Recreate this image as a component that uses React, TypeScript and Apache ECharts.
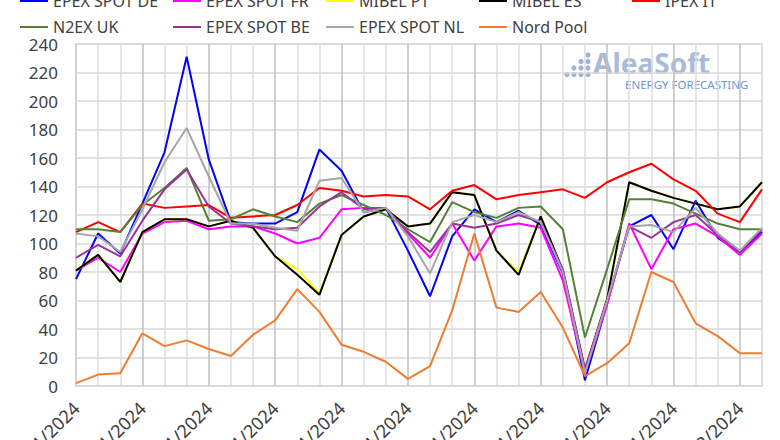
import React, { useEffect, useRef } from "react";
import * as echarts from "echarts";

const categories = [
  "01/11/2024", "02/11/2024", "03/11/2024", "04/11/2024", "05/11/2024", "06/11/2024", "07/11/2024", "08/11/2024",
  "09/11/2024", "10/11/2024", "11/11/2024", "12/11/2024", "13/11/2024", "14/11/2024", "15/11/2024", "16/11/2024",
  "17/11/2024", "18/11/2024", "19/11/2024", "20/11/2024", "21/11/2024", "22/11/2024", "23/11/2024", "24/11/2024",
  "25/11/2024", "26/11/2024", "27/11/2024", "28/11/2024", "29/11/2024", "30/11/2024", "01/12/2024", "02/12/2024",
];

const seriesNames = ["EPEX SPOT DE", "EPEX SPOT FR", "MIBEL PT", "MIBEL ES", "IPEX IT", "N2EX UK", "EPEX SPOT BE", "EPEX SPOT NL", "Nord Pool"];

const epexDE = [75, 107, 93, 128, 164, 231, 159, 115, 114, 114, 122, 166, 151, 122, 125, 95, 63, 105, 124, 115, 123, 113, 79, 4, 58, 112, 120, 96, 130, 104, 94, 108];
const epexFR = [81, 90, 80, 107, 115, 116, 110, 112, 112, 107, 100, 104, 124, 125, 125, 107, 90, 114, 88, 112, 114, 111, 74, 9, 57, 114, 82, 110, 114, 105, 92, 107];
const mibelPT = [81, 92, 73, 108, 117, 117, 112, 116, 111, 91, 82, 65, 106, 119, 124, 112, 114, 136, 134, 95, 80, 119, 81, 11, 61, 143, 137, 132, 128, 124, 126, 143];
const mibelES = [81, 92, 73, 108, 117, 117, 112, 116, 111, 91, 78, 64, 106, 119, 124, 112, 114, 136, 134, 95, 78, 119, 81, 11, 61, 143, 137, 132, 128, 124, 126, 143];
const ipexIT = [108, 115, 108, 128, 125, 126, 127, 118, 119, 120, 127, 139, 137, 133, 134, 133, 124, 137, 141, 131, 134, 136, 138, 132, 143, 150, 156, 145, 137, 121, 115, 138];
const n2exUK = [110, 110, 108, 127, 139, 153, 116, 117, 124, 119, 115, 128, 134, 127, 120, 110, 101, 129, 122, 118, 125, 126, 110, 34, 82, 131, 131, 128, 121, 114, 110, 110];
const epexBE = [90, 99, 91, 116, 138, 152, 126, 114, 112, 110, 111, 126, 136, 124, 125, 108, 94, 114, 111, 114, 120, 115, 82, 12, 60, 112, 104, 115, 120, 106, 94, 110];
const epexNL = [107, 105, 94, 124, 157, 181, 147, 114, 114, 111, 109, 144, 146, 122, 125, 105, 79, 115, 120, 115, 122, 115, 80, 9, 60, 112, 113, 108, 125, 107, 95, 111];
const nordPool = [2, 8, 9, 37, 28, 32, 26, 21, 36, 46, 68, 52, 29, 24, 17, 5, 14, 53, 107, 55, 52, 66, 41, 7, 16, 30, 80, 73, 44, 35, 23, 23];

const seriesValues = [epexDE, epexFR, mibelPT, mibelES, ipexIT, n2exUK, epexBE, epexNL, nordPool];
const seriesColors = ["#0000FF", "#FF00FF", "#FFFF00", "#000000", "#FF0000", "#548235", "#993399", "#A6A6A6", "#ED7D31"];

const FONT = "'Noto Sans', sans-serif";

export default function App() {
  const ref = useRef<HTMLDivElement>(null);
  useEffect(() => {
    if (!ref.current) return;
    document.body.style.margin = "0";
    const chart = echarts.init(ref.current, undefined, { renderer: "svg" });

    const legendCols = [20, 173, 326, 479, 632];
    const legendRows = [-8, 18];
    const legends = seriesNames.map((name, i) => ({
      data: [name],
      left: legendCols[i % 5],
      top: legendRows[Math.floor(i / 5)],
      icon: "rect",
      itemWidth: 28,
      itemHeight: 2,
      padding: 0,
      textStyle: { fontSize: 16, color: "#404040", fontFamily: FONT, lineHeight: 18 },
    }));

    const dots: any[] = [];
    const dotRows = [[588], [581, 588], [574, 581, 588], [567, 574, 581, 588]];
    dotRows.forEach((row, r) =>
      row.forEach((cx) => dots.push({ type: "circle", shape: { cx, cy: 55 + r * 6.5, r: 2.6 }, style: { fill: "#9fb3d4" }, z: 0 }))
    );

    chart.setOption({
      animation: false,
      legend: legends,
      grid: {
        left: 76, right: 18, top: 44, bottom: 54,
        show: true, borderColor: "#d9d9d9", borderWidth: 1.5,
        containLabel: false, outerBoundsMode: "none",
      },
      graphic: [
        ...dots,
        { type: "text", left: 593, top: 49, z: 0, style: { text: "AleaSoft", fontSize: 28, lineHeight: 26, fontWeight: "bold", fontFamily: FONT, fill: "#a9bbd8" } },
        { type: "text", left: 625, top: 78, z: 0, style: { text: "ENERGY FORECASTING", fontSize: 11.5, lineHeight: 11, fontFamily: FONT, fill: "#6f95d2" } },
      ],
      xAxis: {
        type: "category",
        data: categories,
        boundaryGap: false,
        axisLine: { show: true, lineStyle: { color: "#d9d9d9", width: 1.5 } },
        axisTick: { show: false },
        axisLabel: { interval: 2, rotate: 45, margin: 19, fontSize: 18, color: "#404040", fontFamily: FONT },
        splitLine: { show: true, interval: 0, lineStyle: { color: ["#bfbfbf", "#dedede", "#dedede"], width: 1.5 } },
      },
      yAxis: {
        type: "value",
        min: 0,
        max: 240,
        interval: 20,
        axisLine: { show: true, lineStyle: { color: "#d9d9d9", width: 1.5 } },
        axisTick: { show: false },
        axisLabel: { margin: 18, fontSize: 17, color: "#404040", fontFamily: FONT },
        splitLine: { show: true, lineStyle: { color: "#d9d9d9", width: 1.5 } },
      },
      series: seriesNames.map((name, i) => ({
        name,
        type: "line",
        data: seriesValues[i],
        symbol: "none",
        color: seriesColors[i],
        lineStyle: { width: 2, color: seriesColors[i] },
        z: 2 + i,
      })),
    });
    return () => chart.dispose();
  }, []);
  return <div ref={ref} style={{ width: 780, height: 440 }} />;
}
